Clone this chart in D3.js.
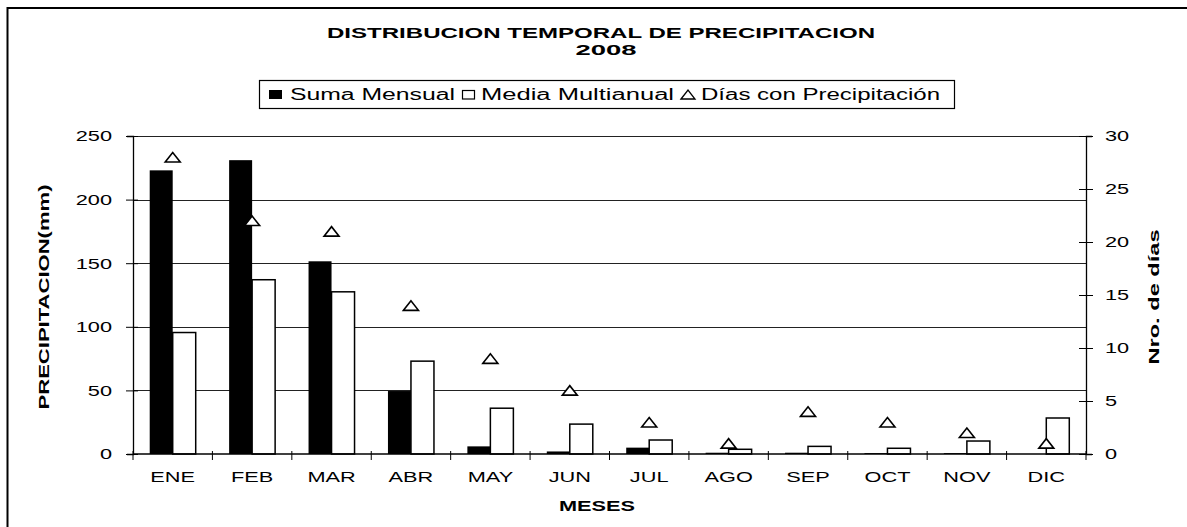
<!DOCTYPE html>
<html><head><meta charset="utf-8">
<script src="https://cdn.jsdelivr.net/npm/d3@7"></script>
<style>body{margin:0;background:#fff}svg{display:block;font-family:"Liberation Sans",Arial,sans-serif}</style>
</head><body>
<svg id="c" width="1187" height="527"></svg>
<script>
const months = ["ENE","FEB","MAR","ABR","MAY","JUN","JUL","AGO","SEP","OCT","NOV","DIC"];
const sumaMensual = [223, 231, 151.5, 49.5, 6, 2, 5, 1, 1, 0.7, 0.7, 0];
const mediaMultianual = [95.5, 137, 127.5, 73, 36, 23.5, 11, 3.7, 6, 4.5, 10.2, 28.3];
const diasPrecip = [28, 22, 21, 14, 9, 6, 3, 1, 4, 3, 2, 1];
const leftTicks = [0, 50, 100, 150, 200, 250];
const rightTicks = [0, 5, 10, 15, 20, 25, 30];

const svg = d3.select("#c");
const L = 133, R = 1086, T = 136, B = 454;
const SX = 1.45; // horizontal stretch of text in the original

// outer frame (extends past image right/bottom)
svg.append("rect").attr("x", 7.5).attr("y", 8).attr("width", 1200).attr("height", 560)
  .attr("fill", "none").attr("stroke", "#000").attr("stroke-width", 2);

const x = d3.scaleBand().domain(months).range([L, R]);
const y = d3.scaleLinear().domain([0, 250]).range([B, T]);
const y2 = d3.scaleLinear().domain([0, 30]).range([B, T]);

// gridlines
svg.append("g").selectAll("line").data(leftTicks.filter(d => d > 0)).join("line")
  .attr("x1", L).attr("x2", R).attr("y1", d => Math.round(y(d)) + 0.5).attr("y2", d => Math.round(y(d)) + 0.5)
  .attr("stroke", "#222").attr("stroke-width", 1.2);

const bw = 23;
svg.append("g").selectAll("rect").data(months).join("rect")
  .attr("x", d => x(d) + x.bandwidth() / 2 - bw)
  .attr("width", bw)
  .attr("y", (d, i) => y(sumaMensual[i]))
  .attr("height", (d, i) => B - y(sumaMensual[i]))
  .attr("fill", "#000");
svg.append("g").selectAll("rect").data(months).join("rect")
  .attr("x", d => x(d) + x.bandwidth() / 2)
  .attr("width", bw)
  .attr("y", (d, i) => y(mediaMultianual[i]))
  .attr("height", (d, i) => B - y(mediaMultianual[i]))
  .attr("fill", "#fff").attr("stroke", "#000").attr("stroke-width", 1.5);

// triangle marker shape (wide, flat like the original)
const triPath = (w, h) => `M${-w/2},${h/2}L0,${-h/2}L${w/2},${h/2}Z`;
svg.append("g").selectAll("path").data(months).join("path")
  .attr("d", triPath(15, 9.5))
  .attr("transform", (d, i) => `translate(${x(d) + x.bandwidth() / 2},${y2(diasPrecip[i])})`)
  .attr("fill", "#fff").attr("stroke", "#000").attr("stroke-width", 1.6).attr("stroke-linejoin", "miter");

function styleTicks(g) {
  g.selectAll("text").attr("font-size", 15).attr("fill", "#000")
    .attr("transform", `scale(${SX},1)`)
    .each(function() {
      const t = d3.select(this);
      t.attr("x", +t.attr("x") / SX);
    });
}
// left axis
const la = svg.append("g").attr("transform", `translate(${L},0)`)
  .call(d3.axisLeft(y).tickValues(leftTicks).tickSize(6).tickPadding(15));
la.selectAll(".tick text").attr("font-size", 15).attr("fill", "#000");
la.selectAll(".tick").each(function() {
  const t = d3.select(this).select("text");
  t.attr("transform", `scale(${SX},1)`).attr("x", -21 / SX);
});
la.select(".domain").attr("stroke", "#000").attr("stroke-width", 1.3);
la.selectAll(".tick line").attr("x2", -7).attr("x1", 5).attr("stroke", "#000");

// right axis
const ra = svg.append("g").attr("transform", `translate(${R},0)`)
  .call(d3.axisRight(y2).tickValues(rightTicks).tickSize(6).tickPadding(15));
ra.selectAll(".tick text").attr("font-size", 15).attr("fill", "#000");
ra.selectAll(".tick").each(function() {
  const t = d3.select(this).select("text");
  t.attr("transform", `scale(${SX},1)`).attr("x", 19 / SX);
});
ra.select(".domain").attr("stroke", "#000").attr("stroke-width", 1.3);
ra.selectAll(".tick line").attr("x1", -7).attr("x2", 7).attr("stroke", "#000");

// bottom axis
svg.append("line").attr("x1", L).attr("x2", R).attr("y1", B).attr("y2", B)
  .attr("stroke", "#000").attr("stroke-width", 1.3);
const bounds = months.map(m => x(m)).concat([R]);
svg.append("g").selectAll("line").data(bounds).join("line")
  .attr("x1", d => d).attr("x2", d => d).attr("y1", B - 3).attr("y2", B + 6)
  .attr("stroke", "#000");
svg.append("g").selectAll("text").data(months).join("text")
  .attr("transform", d => `translate(${x(d) + x.bandwidth() / 2},482) scale(${SX},1)`)
  .attr("text-anchor", "middle").attr("font-size", 15)
  .text(d => d);

// axis titles
svg.append("text").attr("transform", `translate(597,511) scale(${SX},1)`).attr("text-anchor", "middle")
  .attr("font-size", 15).attr("font-weight", "bold").text("MESES");
svg.append("text").attr("transform", "translate(49,297) rotate(-90)").attr("text-anchor", "middle")
  .attr("font-size", 15).attr("font-weight", "bold")
  .attr("textLength", 225).attr("lengthAdjust", "spacingAndGlyphs").text("PRECIPITACION(mm)");
svg.append("text").attr("transform", "translate(1159,297) rotate(-90)").attr("text-anchor", "middle")
  .attr("font-size", 15).attr("font-weight", "bold")
  .attr("textLength", 135).attr("lengthAdjust", "spacingAndGlyphs").text("Nro. de días");

// title
svg.append("text").attr("x", 601).attr("y", 38).attr("text-anchor", "middle")
  .attr("font-size", 15).attr("font-weight", "bold")
  .attr("textLength", 548).attr("lengthAdjust", "spacingAndGlyphs").text("DISTRIBUCION TEMPORAL DE PRECIPITACION");
svg.append("text").attr("x", 606).attr("y", 55).attr("text-anchor", "middle")
  .attr("font-size", 15).attr("font-weight", "bold")
  .attr("textLength", 61).attr("lengthAdjust", "spacingAndGlyphs").text("2008");

// legend
const lg = svg.append("g");
lg.append("rect").attr("x", 259.5).attr("y", 80.5).attr("width", 695).attr("height", 28)
  .attr("fill", "#fff").attr("stroke", "#000").attr("stroke-width", 1.2);
const legItems = [
  {label: "Suma Mensual", mx: 269, tx: 290, tw: 165, kind: "black"},
  {label: "Media Multianual", mx: 462, tx: 481, tw: 193, kind: "white"},
  {label: "Días con Precipitación", mx: 681, tx: 701, tw: 239, kind: "tri"}
];
legItems.forEach(it => {
  if (it.kind === "black") {
    lg.append("rect").attr("x", it.mx).attr("y", 90).attr("width", 13).attr("height", 9).attr("fill", "#000");
  } else if (it.kind === "white") {
    lg.append("rect").attr("x", it.mx + 0.5).attr("y", 90.5).attr("width", 12).attr("height", 8.5)
      .attr("fill", "#fff").attr("stroke", "#000").attr("stroke-width", 1.2);
  } else {
    lg.append("path").attr("d", triPath(14, 9))
      .attr("transform", `translate(${it.mx + 7},94.5)`).attr("fill", "#fff").attr("stroke", "#000").attr("stroke-width", 1.3);
  }
  lg.append("text").attr("x", it.tx).attr("y", 100).attr("font-size", 16)
    .attr("textLength", it.tw).attr("lengthAdjust", "spacingAndGlyphs").text(it.label);
});
</script>
</body></html>
